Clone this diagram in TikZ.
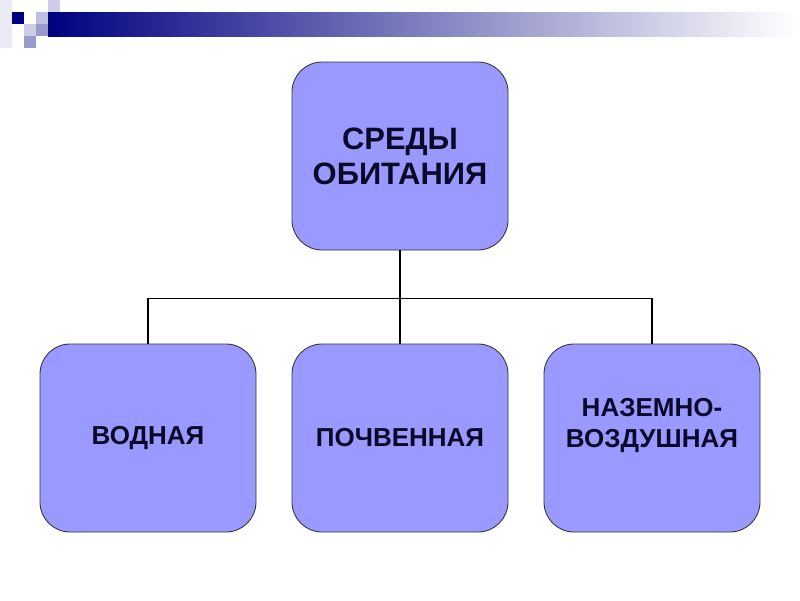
\documentclass[tikz,border=0pt]{standalone}
\usepackage{fontspec}
\setmainfont{Liberation Sans}
\usetikzlibrary{trees}

\definecolor{boxfill}{RGB}{153,153,255}
\definecolor{boxtext}{RGB}{10,10,40}
\definecolor{navy}{RGB}{0,0,128}

\begin{document}
\begin{tikzpicture}[
  level distance=7.05cm,
  level 1/.style={sibling distance=6.3cm},
  edge from parent/.style={draw, line width=1.2pt},
  edge from parent path={(\tikzparentnode.south) -- ++(0,-1.2) -| (\tikzchildnode.north)},
  habitatbox/.style={draw=black!80, line width=0.6pt, fill=boxfill, rounded corners=0.75cm,
    minimum width=5.4cm, minimum height=4.7cm, align=center, text=boxtext, font=\bfseries}]
\useasboundingbox (0,0) rectangle (20,-15);
% header bar
\shade[left color=navy, right color=white, shading angle=90] (1.2,-0.3) rectangle (19.9,-0.9);
\fill[navy] (0.3,-0.3) rectangle (0.6,-0.6);
\fill[navy!25] (0.9,-0.3) rectangle (1.2,-0.6);
\fill[navy!20] (1.2,0) rectangle (1.5,-0.3);
\fill[navy!20] (0.6,-0.6) rectangle (0.9,-0.9);
\fill[navy!40] (0.9,-0.6) rectangle (1.2,-0.9);
\fill[navy!40] (0.6,-0.9) rectangle (0.9,-1.2);
\fill[navy!8] (0,0) rectangle (0.3,-1.2);
% tree
\node[habitatbox, font=\bfseries\fontsize{22}{25}\selectfont] (habitat) at (10,-3.9) {СРЕДЫ\\ОБИТАНИЯ}
  child {node[habitatbox, font=\bfseries\fontsize{18.5}{22}\selectfont] (water) {ВОДНАЯ}}
  child {node[habitatbox, font=\bfseries\fontsize{18.5}{22}\selectfont] (soil) {ПОЧВЕННАЯ}}
  child {node[habitatbox, font=\bfseries\fontsize{18.5}{22}\selectfont, text depth=0.75cm] (landair) {НАЗЕМНО-\\ВОЗДУШНАЯ}};
\end{tikzpicture}
\end{document}
